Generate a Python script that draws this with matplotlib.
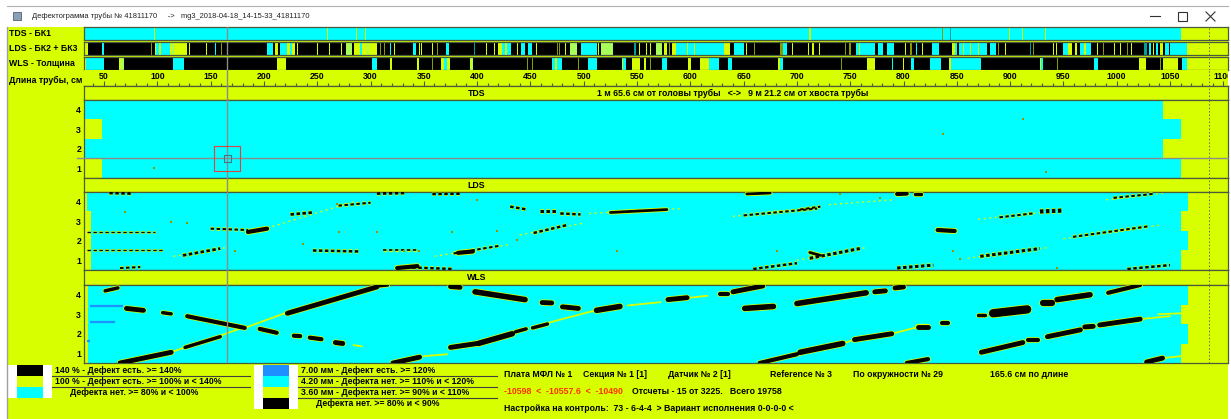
import matplotlib
matplotlib.use("Agg")
import matplotlib.pyplot as plt
from matplotlib.patches import Rectangle

plt.rcParams["font.family"] = ["Liberation Sans", "DejaVu Sans"]
plt.rcParams["lines.scale_dashes"] = False

W, H = 1231, 419

YEL, CYAN, BLK = "#d8ff00", "#00ffff", "#000000"
BLUE, GRN, OLV, TEAL = "#1e90ff", "#a8ff5a", "#8a9a00", "#00a0a0"
RED, EDGE, GRAY = "#ff3000", "#4a5a3a", "#8c8c8c"
COL = {"Y": YEL, "C": CYAN, "K": BLK, "G": GRN, "O": OLV, "T": TEAL, "B": BLUE}

# pipe coordinates, cm
X_MIN, X_MAX = 31.2, 1104.4
CURSOR_CM = 165.6
PIPE_END_CM = 1086.8
CURSOR_ROW = 1.5

TITLE = "Дефектограмма трубы № 41811170     ->   mg3_2018-04-18_14-15-33_41811170"
STRIP_LABELS = ["TDS - БК1", "LDS - БК2 + БК3", "WLS - Толщина"]
RULER_LABEL = "Длина трубы, см"
RULER_MAJOR = list(range(50, 1101, 50))
RULER_MINOR = list(range(40, 1101, 10))
POSITION_TEXT = "1 м 65.6 см от головы трубы   <->   9 м 21.2 см от хвоста трубы"
PANEL_NAMES = ["TDS", "LDS", "WLS"]
ROWS = [1, 2, 3, 4]

# ---- overview strips: (start cm, end cm, colour) ----
tds_strip = [
    (31.2, 1060.3, "C"),
    (96.8, 97.8, "Y"), (258.7, 259.7, "Y"), (285.9, 286.9, "Y"), (294.8, 295.8, "Y"),
    (711.8, 712.8, "Y"), (836.2, 837.2, "O"), (843.8, 844.8, "T"), (898.5, 899.5, "Y"),
    (911.5, 912.5, "Y"), (932.8, 933.8, "Y"),
]

lds_strip = [
    (31.2, 1066.0, "K"),
    (31.2, 34.7, "Y"), (48.2, 49.6, "C"), (93.8, 94.8, "O"), (97.5, 98.5, "Y"),
    (98.8, 102.0, "C"), (102.0, 103.0, "Y"), (103.0, 112.0, "C"), (112.0, 114.0, "Y"),
    (114.0, 116.0, "G"), (116.0, 128.0, "Y"), (130.0, 131.0, "Y"), (145.3, 146.3, "Y"),
    (154.2, 155.4, "C"), (159.4, 160.4, "O"), (202.5, 208.4, "C"), (210.1, 213.6, "Y"),
    (214.7, 222.0, "C"), (222.0, 224.0, "Y"), (224.0, 226.0, "C"), (226.0, 229.2, "Y"),
    (230.6, 231.6, "Y"), (249.6, 250.6, "Y"), (260.6, 261.6, "Y"), (272.2, 273.2, "Y"),
    (277.0, 282.7, "G"), (284.5, 290.0, "Y"), (290.0, 292.0, "C"), (292.0, 297.0, "Y"),
    (297.0, 299.0, "G"), (299.0, 305.7, "Y"), (308.8, 309.8, "O"), (312.8, 313.8, "O"),
    (318.5, 319.5, "C"), (322.0, 323.0, "Y"), (339.8, 342.2, "C"), (345.1, 346.1, "Y"),
    (347.7, 348.7, "Y"), (357.3, 358.3, "Y"), (362.6, 363.6, "O"), (370.8, 373.6, "C"),
    (397.3, 398.3, "T"), (408.0, 409.0, "Y"), (416.0, 417.0, "Y"), (419.6, 423.0, "Y"),
    (423.0, 426.0, "C"), (426.0, 428.0, "Y"), (428.0, 431.5, "C"), (437.3, 438.3, "Y"),
    (441.2, 444.7, "C"), (448.1, 451.5, "C"), (455.0, 456.0, "Y"), (474.5, 475.5, "O"),
    (477.0, 478.0, "O"), (482.6, 483.6, "Y"), (487.1, 493.3, "G"), (497.8, 512.5, "C"),
    (513.0, 514.0, "Y"), (516.0, 527.0, "G"), (547.6, 548.6, "T"), (552.0, 553.0, "Y"),
    (558.0, 559.0, "Y"), (562.5, 563.5, "Y"), (567.4, 573.2, "G"), (575.3, 577.9, "Y"),
    (580.0, 581.0, "O"), (582.8, 586.6, "Y"), (586.6, 631.6, "C"), (597.0, 598.0, "Y"),
    (603.0, 604.0, "Y"), (631.6, 636.9, "Y"), (641.4, 650.7, "C"), (652.2, 653.2, "Y"),
    (660.0, 661.0, "O"), (683.8, 687.0, "O"), (687.0, 690.7, "C"), (695.5, 696.5, "Y"),
    (710.5, 711.5, "Y"), (714.6, 715.6, "Y"), (720.8, 721.8, "Y"), (745.2, 746.2, "O"),
    (749.3, 750.3, "O"), (755.1, 773.5, "C"), (758.0, 759.0, "Y"), (775.9, 781.0, "C"),
    (784.5, 791.5, "C"), (801.5, 802.5, "Y"), (806.5, 807.5, "O"), (811.9, 812.9, "C"),
    (817.0, 818.0, "Y"), (826.9, 833.2, "C"), (845.4, 848.0, "Y"), (848.0, 850.6, "C"),
    (852.3, 878.3, "C"), (856.0, 857.0, "Y"), (862.0, 863.0, "Y"), (870.0, 871.0, "Y"),
    (881.2, 887.1, "C"), (889.0, 890.0, "O"), (895.3, 896.3, "Y"), (918.8, 919.8, "T"),
    (921.3, 922.3, "O"), (940.4, 941.4, "Y"), (943.2, 944.2, "Y"), (949.6, 954.0, "C"),
    (954.0, 958.3, "Y"), (961.3, 962.3, "Y"), (965.2, 969.0, "C"), (969.0, 971.0, "Y"),
    (971.0, 975.6, "C"), (981.4, 982.4, "Y"), (987.3, 988.3, "O"), (997.7, 998.7, "Y"),
    (1003.0, 1004.0, "Y"), (1010.0, 1011.0, "O"), (1013.4, 1014.4, "Y"), (1026.0, 1028.0, "T"),
    (1030.0, 1032.0, "C"), (1034.0, 1035.0, "Y"), (1037.0, 1039.0, "C"), (1041.0, 1043.0, "Y"),
    (1045.0, 1048.6, "C"), (1050.4, 1066.0, "C"),
]

wls_strip = [
    (31.2, 1066.0, "K"),
    (31.2, 33.0, "Y"), (33.0, 50.4, "C"), (64.3, 66.0, "Y"), (66.0, 68.8, "G"),
    (114.6, 125.0, "C"), (212.6, 220.6, "Y"), (301.4, 305.7, "C"), (317.9, 320.2, "Y"),
    (343.9, 345.7, "Y"), (357.3, 358.3, "O"), (366.5, 368.5, "Y"), (368.5, 372.0, "C"),
    (372.0, 374.5, "Y"), (393.3, 394.5, "Y"), (394.5, 396.0, "G"), (446.4, 448.1, "O"),
    (451.8, 452.8, "O"), (470.7, 473.0, "C"), (473.0, 475.0, "Y"), (475.0, 479.4, "C"),
    (494.5, 495.5, "O"), (504.4, 512.5, "C"), (535.7, 537.0, "Y"), (537.0, 539.2, "C"),
    (545.3, 552.4, "Y"), (557.0, 558.0, "Y"), (562.5, 563.5, "O"), (573.6, 578.5, "C"),
    (597.8, 601.1, "Y"), (609.5, 617.8, "Y"), (617.8, 627.2, "C"), (635.2, 639.3, "C"),
    (682.1, 684.0, "Y"), (684.0, 687.2, "C"), (741.3, 742.3, "O"), (765.5, 773.5, "Y"),
    (789.3, 790.5, "C"), (799.7, 800.7, "Y"), (807.0, 809.6, "C"), (825.2, 834.9, "C"),
    (843.0, 845.0, "Y"), (845.0, 872.4, "C"), (927.7, 929.0, "Y"), (929.0, 930.5, "C"),
    (943.9, 944.9, "O"), (979.0, 982.5, "C"), (1020.8, 1027.1, "Y"), (1041.0, 1042.0, "O"),
    (1043.5, 1057.3, "Y"), (1060.8, 1066.0, "C"),
]

# ---- sensor maps: cyan extent of each row (rows 1..4) ----
tds_row_start = [48.1, 31.2, 48.1, 31.2]
tds_row_end = [1060.3, 1043.4, 1060.3, 1043.4]
lds_row_start = [37.6, 37.6, 37.6, 34.0]
lds_row_end = [1060.3, 1067.0, 1060.3, 1067.0]
wls_row_start = [35.0, 35.0, 35.0, 35.0]
wls_row_end = [1060.6, 1067.0, 1060.6, 1067.0]

tds_specks = [(97.3, 1.0), (912.0, 3.53), (836.7, 2.76), (933.6, 0.8)]

# LDS defect marks: x0, row0, x1, row1, width, style ("-" solid, "d" broken)
lds_black = [
    (55, 4.45, 77, 4.42, 2.0, "d"), (34, 2.45, 98, 2.45, 1.0, "d"), (34, 1.53, 105, 1.53, 1.0, "d"),
    (150, 2.62, 185, 2.55, 1.5, "d"), (185, 2.45, 203, 2.62, 3.0, "-"), (225, 3.35, 246, 3.45, 2.0, "d"),
    (270, 3.8, 300, 3.95, 1.5, "d"), (306, 4.42, 334, 4.45, 2.0, "d"), (124, 1.25, 159, 1.6, 2.0, "d"),
    (246, 1.5, 290, 1.45, 1.8, "d"), (312, 1.5, 344, 1.5, 1.2, "d"), (65, 0.6, 84, 0.65, 1.5, "d"),
    (325, 0.6, 344, 0.7, 3.0, "-"), (358, 4.4, 386, 4.42, 2.0, "d"), (431, 3.75, 447, 3.6, 1.8, "d"),
    (459, 3.5, 475, 3.5, 2.2, "d"), (478, 3.4, 497, 3.35, 1.8, "d"), (525, 3.45, 578, 3.6, 2.0, "-"),
    (453, 2.4, 484, 2.8, 1.8, "d"), (378, 1.35, 422, 1.75, 1.5, "d"), (382, 1.38, 396, 1.45, 3.0, "-"),
    (328, 0.65, 378, 0.55, 1.8, "d"), (653, 4.4, 675, 4.45, 2.0, "-"), (650, 3.3, 719, 3.65, 1.5, "d"),
    (659, 0.55, 700, 0.85, 1.8, "d"), (712, 1.4, 722, 1.25, 2.0, "-"), (703, 3.6, 722, 3.75, 1.5, "d"),
    (794, 4.4, 803, 4.42, 3.0, "-"), (811, 4.42, 816, 4.42, 2.5, "-"), (890, 3.2, 921, 3.4, 1.5, "d"),
    (928, 3.5, 950, 3.55, 3.0, "d"), (997, 4.2, 1034, 4.4, 1.5, "d"), (832, 2.55, 848, 2.5, 3.0, "-"),
    (959, 2.2, 1031, 2.75, 1.5, "d"), (712, 1.1, 759, 1.6, 2.2, "d"), (872, 1.2, 928, 1.6, 2.2, "d"),
    (794, 0.6, 828, 0.75, 2.2, "d"), (1010, 0.55, 1050, 0.75, 1.8, "d"),
]
lds_yellow = [
    (203, 2.65, 284, 4.0), (115, 1.2, 165, 1.65), (505, 3.4, 590, 3.65), (730, 3.85, 790, 4.1),
    (440, 2.3, 500, 2.9), (360, 1.2, 430, 1.8), (640, 3.25, 720, 3.7), (870, 3.1, 930, 3.45),
    (950, 2.1, 1040, 2.8), (990, 4.1, 1045, 4.45), (700, 1.0, 765, 1.65), (860, 1.1, 935, 1.65),
]
lds_specks = [
    (70, 3.48), (113, 2.96), (128, 2.9), (237, 1.83), (270, 2.45), (306, 2.45), (173, 1.47),
    (269, 3.9), (376, 2.45), (419, 2.5), (400, 4.1), (531, 1.47), (681, 1.47), (437, 2.04),
    (331, 1.47), (345, 1.47), (740, 4.4), (846, 1.47), (853, 1.05), (944, 0.6), (778, 4.2),
]

# WLS wall-thickness streaks: x0, row0, x1, row1, width
wls_black = [
    (51, 4.2, 63, 4.35, 2.5), (71, 3.3, 87, 3.2, 3.5), (105, 3.08, 113, 3.02, 2.5),
    (128, 2.9, 182, 2.3, 3.0), (222, 3.05, 306, 4.4, 3.5), (306, 4.45, 316, 4.5, 2.5),
    (65, 0.5, 113, 1.05, 3.5), (126, 1.3, 159, 1.85, 2.5), (196, 2.25, 212, 2.05, 3.0),
    (228, 1.9, 234, 1.88, 3.0), (243, 1.8, 254, 1.72, 3.0), (267, 1.55, 274, 1.5, 3.5),
    (321, 0.5, 346, 0.8, 3.5), (375, 4.42, 384, 4.38, 3.5), (398, 4.15, 445, 3.75, 4.0),
    (461, 3.6, 470, 3.58, 3.5), (480, 3.38, 495, 3.3, 3.5), (512, 3.2, 534, 3.4, 4.0),
    (579, 3.75, 597, 3.85, 3.5), (628, 4.05, 635, 4.05, 3.0), (640, 4.15, 668, 4.45, 3.5),
    (651, 3.3, 678, 3.4, 4.0), (700, 3.55, 765, 4.1, 4.0), (773, 4.15, 783, 4.2, 3.5),
    (792, 4.35, 800, 4.4, 3.5), (870, 2.95, 876, 2.95, 2.5), (884, 3.05, 916, 3.25, 6.0),
    (931, 3.6, 939, 3.6, 4.5), (944, 3.75, 975, 4.0, 4.0), (992, 4.1, 1022, 4.5, 3.0),
    (375, 1.3, 400, 1.5, 3.5), (401, 1.5, 433, 2.0, 4.0), (436, 2.1, 446, 2.25, 2.5),
    (452, 2.3, 466, 2.5, 2.5), (665, 0.5, 700, 0.95, 3.0), (703, 1.05, 743, 1.5, 4.0),
    (754, 1.7, 789, 2.0, 3.5), (814, 2.35, 823, 2.35, 3.5), (836, 2.55, 842, 2.55, 3.0),
    (873, 1.05, 912, 1.55, 3.5), (917, 1.7, 926, 1.7, 3.0), (935, 1.85, 966, 2.2, 3.5),
    (970, 2.35, 978, 2.38, 3.5), (984, 2.45, 1022, 2.75, 3.5), (803, 0.5, 823, 0.7, 3.0),
    (1028, 0.55, 1043, 0.75, 3.5),
]
wls_yellow = [
    (182, 2.3, 222, 3.1), (159, 1.9, 182, 2.35), (284, 1.42, 292, 1.35), (350, 0.85, 372, 0.95),
    (541, 3.45, 572, 3.62), (600, 3.85, 616, 3.95), (466, 2.55, 504, 3.1), (743, 1.5, 754, 1.7),
    (789, 2.0, 814, 2.35), (1022, 2.75, 1050, 2.9), (1039, 3.0, 1061, 3.05), (1043, 0.75, 1060, 0.85),
    (113, 1.05, 126, 1.3), (504, 3.1, 512, 3.2),
]
wls_blue = [(36.9, 67.8, 3.42), (36.9, 60.3, 2.6), (34.0, 37.0, 1.63)]

legend_left = [
    ("140 % - Дефект есть. >= 140%", "K"),
    ("100 % - Дефект есть. >= 100% и < 140%", "Y"),
    ("Дефекта нет. >= 80% и < 100%", "C"),
]
legend_right = [
    ("7.00 мм - Дефект есть. >= 120%", "B"),
    ("4.20 мм - Дефекта нет. >= 110% и < 120%", "C"),
    ("3.60 мм - Дефекта нет. >= 90% и < 110%", "Y"),
    ("Дефекта нет. >= 80% и < 90%", "K"),
]
info_row1 = ["Плата МФЛ № 1", "Секция № 1 [1]", "Датчик № 2 [1]", "Reference № 3",
             "По окружности № 29", "165.6 см по длине"]
info_x1 = [504, 583, 668, 770, 853, 990]
info_range = "-10598  <  -10557.6  <  -10490"
info_counts = "Отсчеты - 15 от 3225.   Всего 19758"
info_setup = "Настройка на контроль:  73 - 6-4-4  > Вариант исполнения 0-0-0-0 <"

FS = 6.3
BOLD = dict(fontsize=FS, fontweight="bold", color="black")


def px_axes(fig, x0, y0, x1, y1, zorder=1):
    return fig.add_axes([x0 / W, 1 - y1 / H, (x1 - x0) / W, (y1 - y0) / H], zorder=zorder)


def frame(ax):
    ax.set_xlim(X_MIN, X_MAX)
    ax.set_facecolor(YEL)
    for s in ax.spines.values():
        s.set_color(EDGE)
        s.set_linewidth(0.9)


def guides(ax):
    ax.axvline(CURSOR_CM, color=GRAY, lw=1.0, zorder=6)
    ax.axvline(PIPE_END_CM, color="#606060", lw=0.7, ls=(0, (1, 1.5)), zorder=6)


fig = plt.figure(figsize=(W / 100, H / 100), dpi=100, facecolor="white")

# background canvas in pixel units
bg = px_axes(fig, 0, 0, W, H, zorder=0)
bg.set_xlim(0, W)
bg.set_ylim(H, 0)
bg.axis("off")
bg.add_patch(Rectangle((7, 27), 1221, 392, facecolor=YEL, edgecolor="none"))
bg.plot([7, 7], [27, 419], color="#a0a0a0", lw=1)
bg.plot([7, 1228], [6.5, 6.5], color="#b0b0b0", lw=0.8)
bg.add_patch(Rectangle((13, 12), 8, 8, facecolor="#8aa0b8", edgecolor="#506070", lw=0.6))
bg.text(32, 16.5, TITLE, fontsize=5.4, va="center", color="#202020")
bg.plot([1150, 1160], [16.5, 16.5], color="#303030", lw=0.8)
bg.add_patch(Rectangle((1178, 12), 9, 9, facecolor="none", edgecolor="#303030", lw=0.8))
bg.plot([1206, 1215], [12, 21], color="#303030", lw=0.8)
bg.plot([1206, 1215], [21, 12], color="#303030", lw=0.8)

# strip labels and ruler label
for lab, y in zip(STRIP_LABELS + [RULER_LABEL], [33.5, 48.5, 64, 80]):
    bg.text(9, y, lab, va="center", **BOLD)

# ---- overview strips ----
for strip, (y0, y1) in zip([tds_strip, lds_strip, wls_strip], [(27.5, 40.5), (42, 55.5), (57, 70.5)]):
    ax = px_axes(fig, 84, y0, 1228, y1)
    frame(ax)
    ax.set_ylim(0, 1)
    for s, e, c in strip:
        ax.broken_barh([(s, e - s)], (0, 1), facecolors=COL[c], edgecolor="none")
    guides(ax)
    ax.set_xticks([])
    ax.set_yticks([])

# ---- ruler ----
ax = px_axes(fig, 84, 70.5, 1228, 86)
frame(ax)
ax.set_ylim(0, 1)
for side in ["top", "left", "right"]:
    ax.spines[side].set_visible(False)
ax.set_xticks(RULER_MAJOR)
ax.set_xticks(RULER_MINOR, minor=True)
ax.tick_params(axis="x", which="both", direction="in", colors=EDGE, labelbottom=False, width=0.8)
ax.tick_params(axis="x", which="major", length=3.5)
ax.tick_params(axis="x", which="minor", length=2)
ax.set_yticks([])
for v in RULER_MAJOR:
    ax.text(v, 0.62, str(v), ha="center", va="center", clip_on=True, **BOLD)
guides(ax)

# ---- headers and maps ----
headers = [(86, 100), (178, 192), (270, 285)]
panels = [(100, 178), (192, 270), (285, 363)]
starts = [tds_row_start, lds_row_start, wls_row_start]
ends = [tds_row_end, lds_row_end, wls_row_end]
maps = []
for name, (h0, h1), (p0, p1), rs, re_ in zip(PANEL_NAMES, headers, panels, starts, ends):
    hx = px_axes(fig, 84, h0, 1228, h1)
    frame(hx)
    hx.set_xticks([])
    hx.set_yticks([])
    hx.text(0.343, 0.5, name, transform=hx.transAxes, ha="center", va="center", **BOLD)
    if name == "TDS":
        hx.text(0.448, 0.5, POSITION_TEXT, transform=hx.transAxes, va="center", **BOLD)
    guides(hx)

    ax = px_axes(fig, 84, p0, 1228, p1)
    frame(ax)
    ax.set_ylim(0.5, 4.5)
    ax.barh(ROWS, [e - s for s, e in zip(rs, re_)], left=rs, height=1.0, color=CYAN, lw=0)
    ax.set_xticks([])
    ax.set_yticks(ROWS)
    ax.set_yticklabels([str(r) for r in ROWS], fontsize=FS, fontweight="bold")
    ax.tick_params(axis="y", length=0, pad=2)
    guides(ax)
    maps.append(ax)

ax_tds, ax_lds, ax_wls = maps

# TDS
ax_tds.scatter([p[0] for p in tds_specks], [p[1] for p in tds_specks], s=2, marker="s",
               color=OLV, lw=0, zorder=3)
ax_tds.plot([24.7, X_MAX], [CURSOR_ROW, CURSOR_ROW], color=GRAY, lw=1.0, clip_on=False, zorder=6)
ax_tds.scatter([CURSOR_CM], [CURSOR_ROW], s=350, marker="s", facecolors="none",
               edgecolors="#e04040", lw=0.8, zorder=7)
ax_tds.scatter([CURSOR_CM], [CURSOR_ROW], s=25, marker="s", facecolors="none",
               edgecolors="#507080", lw=0.8, zorder=7)

# LDS
for x0, r0, x1, r1 in lds_yellow:
    ax_lds.plot([x0, x1], [r0, r1], color=YEL, lw=1.0, ls=(0, (1.5, 2.5)), zorder=2)
for x0, r0, x1, r1, lw, st in lds_black:
    ls = "-" if st == "-" else (0, (2.5, 1.8))
    ax_lds.plot([x0, x1], [r0, r1], color=YEL, lw=lw + 1.2, ls=ls, solid_capstyle="round", zorder=3)
    ax_lds.plot([x0, x1], [r0, r1], color=BLK, lw=lw, ls=ls, solid_capstyle="round", zorder=4)
ax_lds.scatter([p[0] for p in lds_specks], [p[1] for p in lds_specks], s=3, marker="s",
               color=OLV, lw=0, zorder=4)

# WLS
for x0, x1, r in wls_blue:
    ax_wls.plot([x0, x1], [r, r], color=BLUE, lw=1.6, solid_capstyle="butt", zorder=3)
for x0, r0, x1, r1 in wls_yellow:
    ax_wls.plot([x0, x1], [r0, r1], color=YEL, lw=1.3, solid_capstyle="round", zorder=2)
for x0, r0, x1, r1, lw in wls_black:
    ax_wls.plot([x0, x1], [r0, r1], color=YEL, lw=lw + 1.0, solid_capstyle="round", zorder=3)
    ax_wls.plot([x0, x1], [r0, r1], color=BLK, lw=lw, solid_capstyle="round", zorder=4)

# ---- legends ----
for items, x0, line_end in [(legend_left, 8, 250), (legend_right, 254, 497)]:
    n = len(items)
    bg.add_patch(Rectangle((x0, 365), 44, 11 * n, facecolor="white", edgecolor="none"))
    for i, (label, c) in enumerate(items):
        y = 365 + 11 * i
        bg.add_patch(Rectangle((x0 + 9, y), 26, 11, facecolor=COL[c], edgecolor="none"))
        tx = x0 + 47 if i < n - 1 else x0 + 62
        bg.text(tx, y + 5.5, label, va="center", **BOLD)
        if i < n - 1:
            bg.plot([x0 + 44, line_end], [y + 11, y + 11], color="#404040", lw=0.8)

# ---- info block ----
for t, x in zip(info_row1, info_x1):
    bg.text(x, 374, t, va="center", **BOLD)
bg.text(504, 391, info_range, va="center", fontsize=FS, fontweight="bold", color=RED)
bg.text(632, 391, info_counts, va="center", **BOLD)
bg.text(504, 408, info_setup, va="center", **BOLD)

fig.savefig("out.png", dpi=100, facecolor="white")
